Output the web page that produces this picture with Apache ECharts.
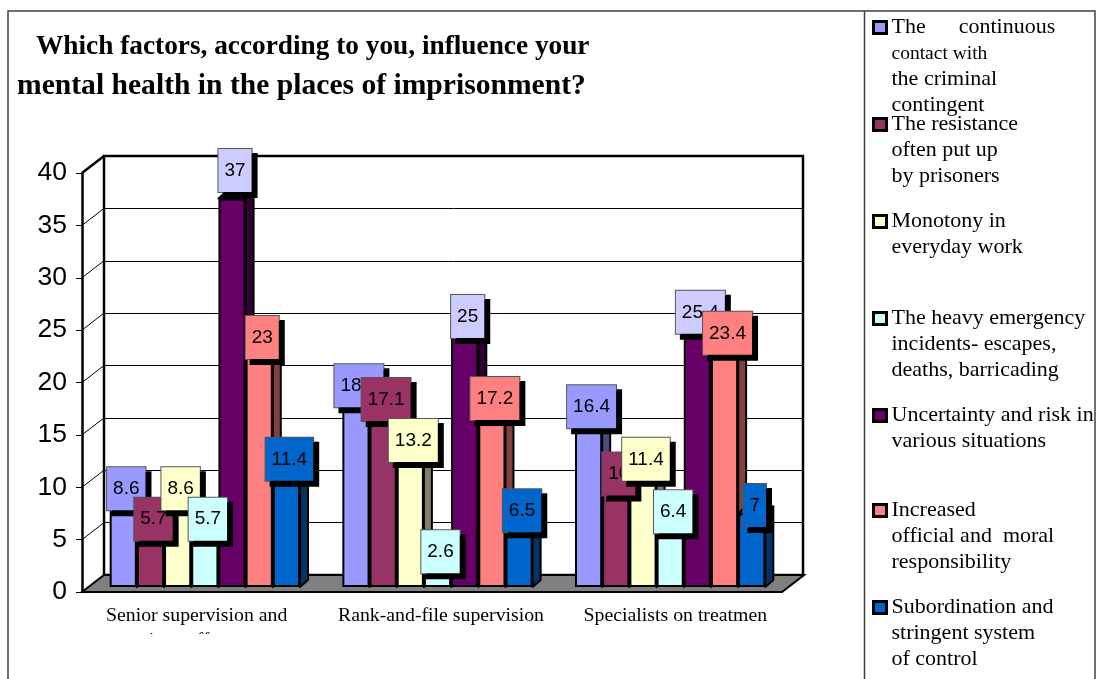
<!DOCTYPE html>
<html>
<head>
<meta charset="utf-8">
<style>html,body{margin:0;padding:0;background:#fff}#c{width:1096px;height:679px}</style>
<script src="https://cdn.jsdelivr.net/npm/echarts@6/dist/echarts.min.js"></script>
</head>
<body>
<div id="c"></div>
<script>
const categories = ['Senior supervision and\nsecurity staff', 'Rank-and-file supervision', 'Specialists on treatmen'];
const contactValues = [8.6, 18.4, 16.4];
const resistanceValues = [5.7, 17.1, 10];
const monotonyValues = [8.6, 13.2, 11.4];
const emergencyValues = [5.7, 2.6, 6.4];
const uncertaintyValues = [37, 25, 25.4];
const responsibilityValues = [23, 17.2, 23.4];
const subordinationValues = [11.4, 6.5, 7];
const yTicks = [0, 5, 10, 15, 20, 25, 30, 35, 40];
const titleLines = ['Which factors, according to you, influence your', 'mental health in the places of imprisonment?'];
const legendLines = [
  ['The      continuous', '~contact with', 'the criminal', 'contingent'],
  ['The resistance', 'often put up', 'by prisoners'],
  ['Monotony in', 'everyday work'],
  ['The heavy emergency', 'incidents- escapes,', 'deaths, barricading'],
  ['Uncertainty and risk in', 'various situations'],
  ['Increased', 'official and  moral', 'responsibility'],
  ['Subordination and', 'stringent system', 'of control']
];
const legendCentres = [27, 124, 221, 318, 415, 510, 607];
const allValues = [contactValues, resistanceValues, monotonyValues, emergencyValues, uncertaintyValues, responsibilityValues, subordinationValues];
const frontColors = ['#9999FF', '#993366', '#FFFFCC', '#CCFFFF', '#660066', '#FF8080', '#0066CC'];
const sideColors = ['#4C4C80', '#4D1A33', '#808066', '#668080', '#330033', '#804040', '#003366'];
const labelColors = ['#9999FF', '#993366', '#FFFFCC', '#CCFFFF', '#CCCCFF', '#FF8080', '#0066CC'];

const SERIF = '"Liberation Serif","Times New Roman",serif';
const SANS = '"Liberation Sans",Arial,sans-serif';
const GAP = 0.182, DX = 8, DY = 7, WALL_X = 22, WALL_Y = 17, LH = 26;
const LABEL_OFFSET = [3, 13.5], RAISED_LABEL_OFFSET = [3, -6.5];
const names = legendLines.map(l => l.join(' ').replace('~', '').replace(/ +/g, ' '));

function legendText(name) {
  const lines = legendLines[names.indexOf(name)];
  const body = lines.map(l => l[0] === '~' ? '{b|' + l.slice(1) + '}' : '{a|' + l + '}').join('\n');
  return '{sp| }\n' + body;
}
const legends = legendLines.map((lines, i) => {
  const spH = LH * (lines.length - 1);
  const rich = {
    a: {fontFamily: SERIF, fontSize: 22, lineHeight: LH, color: '#000'},
    b: {fontFamily: SERIF, fontSize: 19.5, lineHeight: LH, color: '#000'},
    sp: {fontSize: 1, lineHeight: spH}
  };
  return {
    data: [names[i]], left: 872, top: legendCentres[i] - 13 * lines.length,
    padding: 0, itemWidth: 13, itemHeight: 12, icon: 'rect', selectedMode: false,
    itemStyle: {borderColor: '#000', borderWidth: 3},
    formatter: legendText, textStyle: {rich, color: '#000'}
  };
});

const wallSeries = {
  type: 'custom', xAxisIndex: 0, yAxisIndex: 0, z: 1, silent: true,
  data: yTicks.map(v => [0, v]),
  renderItem(params, api) {
    const g = params.coordSys, y = api.coord([0, api.value(1)])[1];
    return {type: 'line', shape: {x1: g.x, y1: y, x2: g.x + WALL_X, y2: y - WALL_Y},
      style: {stroke: '#000', lineWidth: api.value(1) === 40 ? 2.5 : 1}};
  }
};
const floorSeries = {
  type: 'custom', xAxisIndex: 0, yAxisIndex: 0, z: 1, silent: true,
  data: [[0, 0]],
  renderItem(params, api) {
    const g = params.coordSys, y = api.coord([0, 0])[1], x = g.x, r = g.x + g.width;
    return {type: 'polygon', shape: {points: [[x, y], [x + WALL_X, y - WALL_Y], [r + WALL_X, y - WALL_Y], [r, y]]},
      style: {fill: '#808080', stroke: '#000', lineWidth: 2}};
  }
};
const depthSeries = allValues.map((vals, i) => ({
  type: 'custom', xAxisIndex: 2, yAxisIndex: 2, z: 2, silent: true,
  data: vals.map((v, c) => [c, v]),
  renderItem(params, api) {
    const p = api.coord([api.value(0), api.value(1)]);
    const y0 = api.coord([api.value(0), 0])[1];
    const band = api.size([1, 0])[0], w = band * (1 - GAP) / 7;
    const x = p[0] - band * (1 - GAP) / 2 + i * w, t = p[1];
    const st = f => ({fill: f, stroke: '#000', lineWidth: 2, lineJoin: 'round'});
    return {type: 'group', children: [
      {type: 'polygon', shape: {points: [[x, t], [x + DX, t - DY], [x + w + DX, t - DY], [x + w, t]]}, style: st(frontColors[i])},
      {type: 'polygon', shape: {points: [[x + w, t], [x + w + DX, t - DY], [x + w + DX, y0 - DY], [x + w, y0]]}, style: st(sideColors[i])}
    ]};
  }
}));
const barSeries = allValues.map((vals, i) => ({
  type: 'bar', name: names[i], xAxisIndex: 2, yAxisIndex: 2, z: 3,
  data: vals.map(v => v === 37 ? {value: v, label: {offset: RAISED_LABEL_OFFSET}} : v),
  barGap: 0, barCategoryGap: (GAP * 100) + '%', silent: true,
  itemStyle: {color: frontColors[i], borderColor: '#000', borderWidth: 2},
  label: {
    show: true, position: 'top', distance: 0, offset: LABEL_OFFSET,
    fontFamily: SANS, fontSize: 19, color: '#000', lineHeight: 19,
    backgroundColor: labelColors[i], borderColor: '#555', borderWidth: 1,
    padding: [12, 6, 12, 6],
    shadowColor: '#000', shadowBlur: 0, shadowOffsetX: 5, shadowOffsetY: 5
  }
}));
const hiddenX = i => ({gridIndex: i, type: 'category', data: categories, show: false});

const catStyle = {fontFamily: SERIF, fontSize: 19.8, lineHeight: 25, color: '#000'};
const catRich = {
  c0: Object.assign({padding: [0, 4, 0, 0]}, catStyle),
  c0b: Object.assign({padding: [0, 81, 0, 0]}, catStyle),
  c1: Object.assign({padding: [0, 0, 0, 18]}, catStyle),
  c2: Object.assign({padding: [0, 0, 0, 20]}, catStyle)
};

const option = {
  animation: false,
  backgroundColor: '#fff',
  title: [
    {text: titleLines[0], left: 36, top: 33, padding: 0, textStyle: {fontFamily: SERIF, fontWeight: 'bold', fontSize: 27.3, color: '#000'}},
    {text: titleLines[1], left: 17, top: 71, padding: 0, textStyle: {fontFamily: SERIF, fontWeight: 'bold', fontSize: 29.6, color: '#000'}}
  ],
  legend: legends,
  grid: [
    {left: 82, top: 173, width: 700, height: 419},
    {left: 104, top: 156, width: 699, height: 419, show: true, borderColor: '#000', borderWidth: 2.5, backgroundColor: '#fff'},
    {left: 88.5, top: 167, width: 698, height: 420}
  ],
  xAxis: [
    {gridIndex: 0, type: 'category', data: categories, z: 4,
      axisLine: {lineStyle: {color: '#000', width: 2}},
      axisTick: {length: 5, lineStyle: {color: '#000', width: 1}},
      axisLabel: {interval: 0, margin: 11, hideOverlap: false, color: '#000',
        formatter(v, idx) { return v.split('\n').map((s, k) => '{c' + idx + (k ? 'b' : '') + '|' + s + '}').join('\n'); },
        rich: catRich}},
    hiddenX(1), hiddenX(2)
  ],
  yAxis: [
    {gridIndex: 0, type: 'value', min: 0, max: 40, interval: 5, z: 4,
      axisLine: {show: true, lineStyle: {color: '#000', width: 2.5}},
      axisTick: {show: true, length: 6, lineStyle: {color: '#000', width: 1}},
      splitLine: {show: false},
      axisLabel: {fontFamily: SANS, fontSize: 26.5, color: '#000', margin: 15, showMinLabel: true, showMaxLabel: true}},
    {gridIndex: 1, type: 'value', min: 0, max: 40, interval: 5,
      axisLine: {show: false}, axisTick: {show: false}, axisLabel: {show: false},
      splitLine: {show: true, lineStyle: {color: '#000', width: 1}}},
    {gridIndex: 2, type: 'value', min: 0, max: 40, interval: 5, show: false, splitLine: {show: false}}
  ],
  series: [floorSeries, wallSeries].concat(depthSeries, barSeries),
  graphic: [
    {type: 'rect', z: 100, silent: true, shape: {x: 90, y: 634, width: 300, height: 28}, style: {fill: '#fff'}},
    {type: 'rect', z: 101, silent: true, shape: {x: 8, y: 11, width: 1087, height: 720}, style: {fill: 'none', stroke: '#404040', lineWidth: 1.5}},
    {type: 'line', z: 101, silent: true, shape: {x1: 864.5, y1: 11, x2: 864.5, y2: 679}, style: {stroke: '#404040', lineWidth: 1.5}}
  ]
};
echarts.init(document.getElementById('c'), null, {renderer: 'canvas'}).setOption(option);
</script>
</body>
</html>
